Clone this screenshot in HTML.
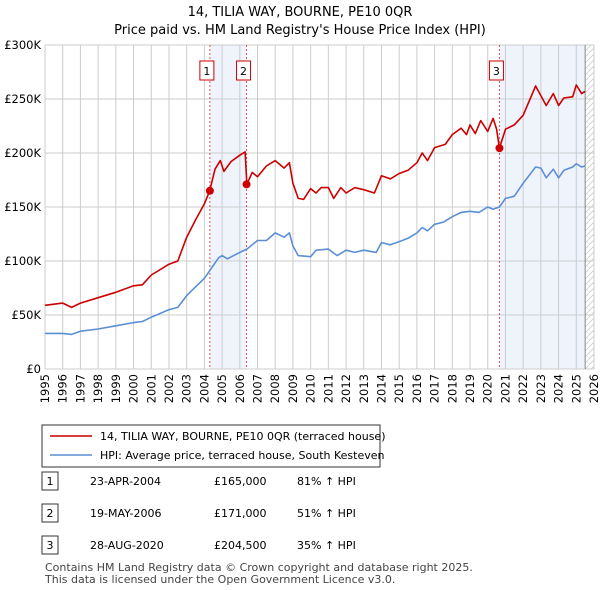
<!DOCTYPE html>
<html><head><meta charset="utf-8"><style>
body{margin:0;background:#fff;font-family:"Liberation Sans","DejaVu Sans",sans-serif;}
#wrap{position:relative;width:600px;height:590px;overflow:hidden}
svg text{font-family:"DejaVu Sans","Liberation Sans",sans-serif}
</style></head><body><div id="wrap">
<svg id="c" width="600" height="590"></svg>
</div>
<script>
const hpiYears=[1995,1996,1996.5,1997,1998,1999,2000,2000.5,2001,2002,2002.5,2003,2003.5,2004,2004.3,2004.8,2005,2005.3,2006,2006.4,2007,2007.5,2008,2008.5,2008.8,2009,2009.3,2010,2010.3,2011,2011.5,2012,2012.5,2013,2013.7,2014,2014.5,2015,2015.5,2016,2016.3,2016.6,2017,2017.5,2018,2018.5,2019,2019.5,2020,2020.3,2020.66,2021,2021.5,2022,2022.7,2023,2023.3,2023.7,2024,2024.3,2024.8,2025,2025.3,2025.5];
const hpiValues=[33,33,32,35,37,40,43,44,48,55,57,68,76,84,91,103,105,102,108,111,119,119,126,122,126,114,105,104,110,111,105,110,108,110,108,117,115,118,121,126,131,128,134,136,141,145,146,145,150,148,150,158,160,172,187,186,177,185,177,184,187,190,187,188];
const priceYears=[1995,1996,1996.5,1997,1998,1999,2000,2000.5,2001,2002,2002.5,2003,2003.5,2004,2004.3,2004.6,2004.9,2005.1,2005.5,2006,2006.3,2006.4,2006.7,2007,2007.5,2008,2008.5,2008.8,2009,2009.3,2009.6,2010,2010.3,2010.6,2011,2011.3,2011.7,2012,2012.5,2013,2013.6,2014,2014.5,2015,2015.5,2016,2016.3,2016.6,2017,2017.6,2018,2018.5,2018.8,2019,2019.3,2019.6,2020,2020.3,2020.5,2020.66,2021,2021.5,2022,2022.7,2023,2023.3,2023.7,2024,2024.3,2024.8,2025,2025.3,2025.5];
const priceValues=[59,61,57,61,66,71,77,78,87,97,100,122,138,153,165,185,193,183,192,198,201,171,182,178,188,193,186,191,172,158,157,167,163,168,168,158,168,163,168,166,163,179,176,181,184,191,200,193,205,208,217,223,217,226,218,230,220,232,222,204.5,222,226,235,262,253,244,255,244,251,252,263,255,257];
const saleYears=[2004.31,2006.38,2020.66];
const saleValues=[165,171,204.5];
const saleLabels=["1","2","3"];
const yTicks=[0,50,100,150,200,250,300];
const yTickLabels=["£0","£50K","£100K","£150K","£200K","£250K","£300K"];
const xTicks=[];for(let y=1995;y<=2026;y++)xTicks.push(y);

const L=45,R=594,T=45,B=369,X0=1995,X1=2026,YMAX=300;
const sx=v=>L+(v-X0)/(X1-X0)*(R-L);
const sy=v=>B-v/YMAX*(B-T);
const svg=document.getElementById('c');const NS='http://www.w3.org/2000/svg';
function mk(t,a,p){const e=document.createElementNS(NS,t);for(const k in a)e.setAttribute(k,a[k]);(p||svg).appendChild(e);return e;}
function tx(x,y,s,a,p){const e=mk('text',Object.assign({x:x,y:y},a),p);e.textContent=s;return e;}
let e=tx(300,16,"14, TILIA WAY, BOURNE, PE10 0QR",{'text-anchor':'middle','font-size':13});

e=tx(300,34,"Price paid vs. HM Land Registry's House Price Index (HPI)",{'text-anchor':'middle','font-size':13});

e=mk('rect',{x:sx(saleYears[0]),y:T,width:sx(saleYears[1])-sx(saleYears[0]),height:B-T,fill:'#eef3fc'});

e=mk('rect',{x:sx(saleYears[2]),y:T,width:sx(2025.5)-sx(saleYears[2]),height:B-T,fill:'#eef3fc'});

const defs=mk('defs',{});const pat=mk('pattern',{id:'h',width:6,height:6,patternUnits:'userSpaceOnUse'},defs);
mk('path',{d:'M0,6 L6,0',stroke:'#ccc','stroke-width':0.8},pat);
e=mk('rect',{x:sx(2025.5),y:T,width:R-sx(2025.5),height:B-T,fill:'url(#h)'});

xTicks.forEach((v,i)=>{mk('line',{x1:sx(v),x2:sx(v),y1:T,y2:B,stroke:'#ccc','stroke-width':1});
 const t=tx(0,0,String(v),{'font-size':11.5,'text-anchor':'end',transform:`translate(${sx(v)+4},${B+5}) rotate(-90)`});
 });
yTicks.forEach((v,i)=>{mk('line',{x1:L,x2:R,y1:sy(v),y2:sy(v),stroke:'#ccc','stroke-width':1});
 const t=tx(L-4,sy(v)+4,yTickLabels[i],{'font-size':11.5,'text-anchor':'end'});
 });
mk('line',{x1:sx(2025.5),x2:sx(2025.5),y1:T,y2:B,stroke:'#888','stroke-width':1});
saleYears.forEach((v,i)=>{mk('line',{x1:sx(v),x2:sx(v),y1:T,y2:B,stroke:'#e05050','stroke-width':1,'stroke-dasharray':'2,2'});
 const g=mk('g',{});
 mk('rect',{x:sx(v)-10,y:61,width:14,height:19,fill:'#fff',stroke:'#cc0000'},g);
 tx(sx(v)-3,75,saleLabels[i],{'font-size':11,'text-anchor':'middle'},g);});
function line(xs,ys,col,name){const d=xs.map((x,i)=>(i?'L':'M')+sx(x).toFixed(1)+','+sy(ys[i]).toFixed(1)).join('');
 const p=mk('path',{d:d,fill:'none',stroke:col,'stroke-width':1.6,'stroke-linejoin':'round'});
 }
line(hpiYears,hpiValues,'#5b8fd4','hpi-line');
line(priceYears,priceValues,'#cc0000','price-line');
saleYears.forEach((v,i)=>{const c=mk('circle',{cx:sx(v),cy:sy(saleValues[i]),r:4,fill:'#cc0000'});
 });
const lg=mk('g',{});
mk('rect',{x:42,y:425,width:338,height:42,fill:'#fff',stroke:'#333'},lg);
mk('line',{x1:50,x2:92,y1:436,y2:436,stroke:'#cc0000','stroke-width':1.6},lg);
mk('line',{x1:50,x2:92,y1:455,y2:455,stroke:'#5b8fd4','stroke-width':1.6},lg);
let t=tx(100,440,"14, TILIA WAY, BOURNE, PE10 0QR (terraced house)",{'font-size':11},lg);

t=tx(100,459,"HPI: Average price, terraced house, South Kesteven",{'font-size':11},lg);

const dates=["23-APR-2004","19-MAY-2006","28-AUG-2020"],prices=["£165,000","£171,000","£204,500"],pcts=["81% ↑ HPI","51% ↑ HPI","35% ↑ HPI"];
[481,513,545].forEach((y,i)=>{const g=mk('g',{});
 mk('rect',{x:42,y:y-9,width:16,height:18,fill:'#fff',stroke:'#333'},g);
 tx(50,y+4,String(i+1),{'font-size':11,'text-anchor':'middle'},g);
 [[90,dates[i]],[214,prices[i]],[297,pcts[i]]].forEach(([x,s])=>{tx(x,y+4,s,{'font-size':11},g);});});
t=tx(45,571,"Contains HM Land Registry data © Crown copyright and database right 2025.",{'font-size':11,fill:'#444'});

t=tx(45,583,"This data is licensed under the Open Government Licence v3.0.",{'font-size':11,fill:'#444'});

</script></body></html>
